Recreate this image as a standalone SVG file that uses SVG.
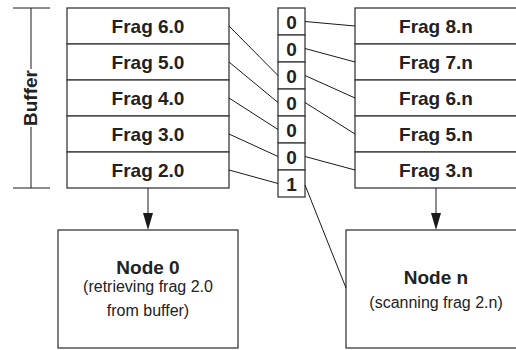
<svg xmlns="http://www.w3.org/2000/svg" width="516" height="350" viewBox="0 0 516 350">
  <defs>
    <style>
      .box { fill: #fff; stroke: #3a3a3a; stroke-width: 1.3; }
      .link { fill: none; stroke: #1a1a1a; stroke-width: 1; }
      .frag { font-family: "Liberation Sans", Arial, sans-serif; font-weight: bold; font-size: 19px; fill: #222; text-anchor: middle; }
      .bit { font-family: "Liberation Sans", Arial, sans-serif; font-weight: bold; font-size: 19px; fill: #222; text-anchor: middle; }
      .title { font-family: "Liberation Sans", Arial, sans-serif; font-weight: bold; font-size: 19px; fill: #222; text-anchor: middle; }
      .note { font-family: "Liberation Sans", Arial, sans-serif; font-size: 16px; fill: #222; text-anchor: middle; }
      .head { fill: #1a1a1a; }
    </style>
  </defs>

  <rect width="516" height="350" fill="#fff"/>

  <!-- Buffer bracket -->
  <g id="buffer-bracket">
    <line class="link" x1="13" y1="8" x2="50" y2="8"/>
    <line class="link" x1="13" y1="188" x2="50" y2="188"/>
    <line class="link" x1="31" y1="8" x2="31" y2="69"/>
    <line class="link" x1="31" y1="127" x2="31" y2="188"/>
    <text class="frag" transform="translate(37,98) rotate(-90)">Buffer</text>
  </g>

  <!-- Node 0 buffer stack -->
  <g id="left-stack">
    <rect class="box" x="67" y="8" width="162" height="36"/>
    <rect class="box" x="67" y="44" width="162" height="36"/>
    <rect class="box" x="67" y="80" width="162" height="36"/>
    <rect class="box" x="67" y="116" width="162" height="36"/>
    <rect class="box" x="67" y="152" width="162" height="36"/>
    <text class="frag" x="148" y="32.5">Frag 6.0</text>
    <text class="frag" x="148" y="68.5">Frag 5.0</text>
    <text class="frag" x="148" y="104.5">Frag 4.0</text>
    <text class="frag" x="148" y="140.5">Frag 3.0</text>
    <text class="frag" x="148" y="176.5">Frag 2.0</text>
  </g>

  <!-- Presence bitmap -->
  <g id="bitmap">
    <rect class="box" x="278" y="8" width="27" height="27"/>
    <rect class="box" x="278" y="35" width="27" height="27"/>
    <rect class="box" x="278" y="62" width="27" height="27"/>
    <rect class="box" x="278" y="89" width="27" height="27"/>
    <rect class="box" x="278" y="116" width="27" height="27"/>
    <rect class="box" x="278" y="143" width="27" height="27"/>
    <rect class="box" x="278" y="170" width="27" height="27"/>
    <text class="bit" x="291.5" y="28.5">0</text>
    <text class="bit" x="291.5" y="55.5">0</text>
    <text class="bit" x="291.5" y="82.5">0</text>
    <text class="bit" x="291.5" y="109.5">0</text>
    <text class="bit" x="291.5" y="136.5">0</text>
    <text class="bit" x="291.5" y="163.5">0</text>
    <text class="bit" x="291.5" y="190.5">1</text>
  </g>

  <!-- Node n stack -->
  <g id="right-stack">
    <rect class="box" x="355" y="8" width="162" height="36"/>
    <rect class="box" x="355" y="44" width="162" height="36"/>
    <rect class="box" x="355" y="80" width="162" height="36"/>
    <rect class="box" x="355" y="116" width="162" height="36"/>
    <rect class="box" x="355" y="152" width="162" height="36"/>
    <text class="frag" x="436" y="32.5">Frag 8.n</text>
    <text class="frag" x="436" y="68.5">Frag 7.n</text>
    <text class="frag" x="436" y="104.5">Frag 6.n</text>
    <text class="frag" x="436" y="140.5">Frag 5.n</text>
    <text class="frag" x="436" y="176.5">Frag 3.n</text>
  </g>

  <!-- Node 0 -->
  <g id="node-0">
    <rect class="box" x="58" y="230" width="180" height="118"/>
    <text class="title" x="148" y="274">Node 0</text>
    <text class="note" x="148" y="292">(retrieving frag 2.0</text>
    <text class="note" x="148" y="316">from buffer)</text>
  </g>

  <!-- Node n -->
  <g id="node-n">
    <rect class="box" x="346" y="230" width="180" height="118"/>
    <text class="title" x="436" y="284">Node n</text>
    <text class="note" x="436" y="308">(scanning frag 2.n)</text>
  </g>

  <!-- Connectors -->
  <g id="connectors">
    <line class="link" x1="229" y1="26" x2="278" y2="75.5"/>
    <line class="link" x1="229" y1="62" x2="278" y2="102.5"/>
    <line class="link" x1="229" y1="98" x2="278" y2="129.5"/>
    <line class="link" x1="229" y1="134" x2="278" y2="156.5"/>
    <line class="link" x1="229" y1="170" x2="278" y2="183.5"/>

    <line class="link" x1="305" y1="21.5" x2="355" y2="26"/>
    <line class="link" x1="305" y1="48.5" x2="355" y2="62"/>
    <line class="link" x1="305" y1="75.5" x2="355" y2="98"/>
    <line class="link" x1="305" y1="102.5" x2="355" y2="134"/>
    <line class="link" x1="305" y1="156.5" x2="355" y2="170"/>
    <line class="link" x1="305" y1="185" x2="346" y2="288"/>

    <line class="link" x1="148" y1="188" x2="148" y2="214"/>
    <polygon class="head" points="143,213 153,213 148,230"/>
    <line class="link" x1="436" y1="188" x2="436" y2="214"/>
    <polygon class="head" points="431,213 441,213 436,230"/>
  </g>
</svg>
